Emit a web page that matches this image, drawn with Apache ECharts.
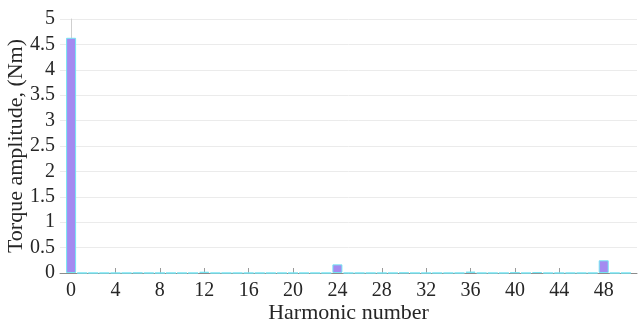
<!DOCTYPE html>
<html>
<head>
<meta charset="utf-8">
<script src="https://cdn.jsdelivr.net/npm/echarts@6/dist/echarts.min.js"></script>
<style>
  html, body { margin: 0; padding: 0; background: #fff; }
  #chart { width: 638px; height: 322px; }
</style>
</head>
<body>
<div id="chart"></div>
<script>
// Harmonic numbers 0..50 and their torque amplitudes (Nm)
const harmonics = Array.from({ length: 51 }, (_, i) => i);
const amplitudes = [
  4.63, 0, 0, 0, 0, 0, 0.004, 0, 0, 0,
  0, 0, 0.025, 0, 0, 0, 0, 0, 0, 0,
  0, 0, 0, 0, 0.17, 0, 0, 0, 0, 0,
  0.005, 0, 0, 0, 0, 0, 0.028, 0, 0, 0,
  0.012, 0, 0.016, 0, 0, 0, 0, 0, 0.25, 0,
  0
];
const xTicks = [0, 4, 8, 12, 16, 20, 24, 28, 32, 36, 40, 44, 48];

const serif = '"Liberation Serif", "DejaVu Serif", serif';
const chart = echarts.init(document.getElementById('chart'), null, { renderer: 'canvas' });

chart.setOption({
  animation: false,
  backgroundColor: '#ffffff',
  grid: { left: 60, right: 1, top: 19, bottom: 49, containLabel: false, outerBoundsMode: 'none' },
  xAxis: {
    type: 'value',
    min: -1,
    max: 51,
    name: 'Harmonic number',
    nameLocation: 'middle',
    nameGap: 29,
    nameMoveOverlap: false,
    nameTextStyle: { fontFamily: serif, fontSize: 22, color: '#262626' },
    axisLine: { show: true, lineStyle: { color: '#8c8c8c', width: 1 } },
    axisTick: { show: true, inside: true, length: 5, customValues: xTicks, lineStyle: { color: '#9a9a9a' } },
    axisLabel: { customValues: xTicks, fontFamily: serif, fontSize: 20, color: '#262626', margin: 8 },
    splitLine: { show: false }
  },
  yAxis: {
    type: 'value',
    min: 0,
    max: 5,
    interval: 0.5,
    name: 'Torque amplitude, (Nm)',
    nameLocation: 'middle',
    nameGap: 33,
    nameMoveOverlap: false,
    nameTextStyle: { fontFamily: serif, fontSize: 22, color: '#262626' },
    axisLine: { show: true, lineStyle: { color: '#cfcfcf', width: 1 } },
    axisTick: { show: false },
    axisLabel: { fontFamily: serif, fontSize: 20, color: '#262626', margin: 5 },
    splitLine: { show: true, lineStyle: { color: '#ebebeb', width: 1 } }
  },
  series: [{
    type: 'bar',
    data: harmonics.map((h, i) => [h, amplitudes[i]]),
    barWidth: 10,
    itemStyle: {
      color: '#a48af0',
      borderColor: '#74e4f2',
      borderWidth: 1
    }
  }]
});
</script>
</body>
</html>
